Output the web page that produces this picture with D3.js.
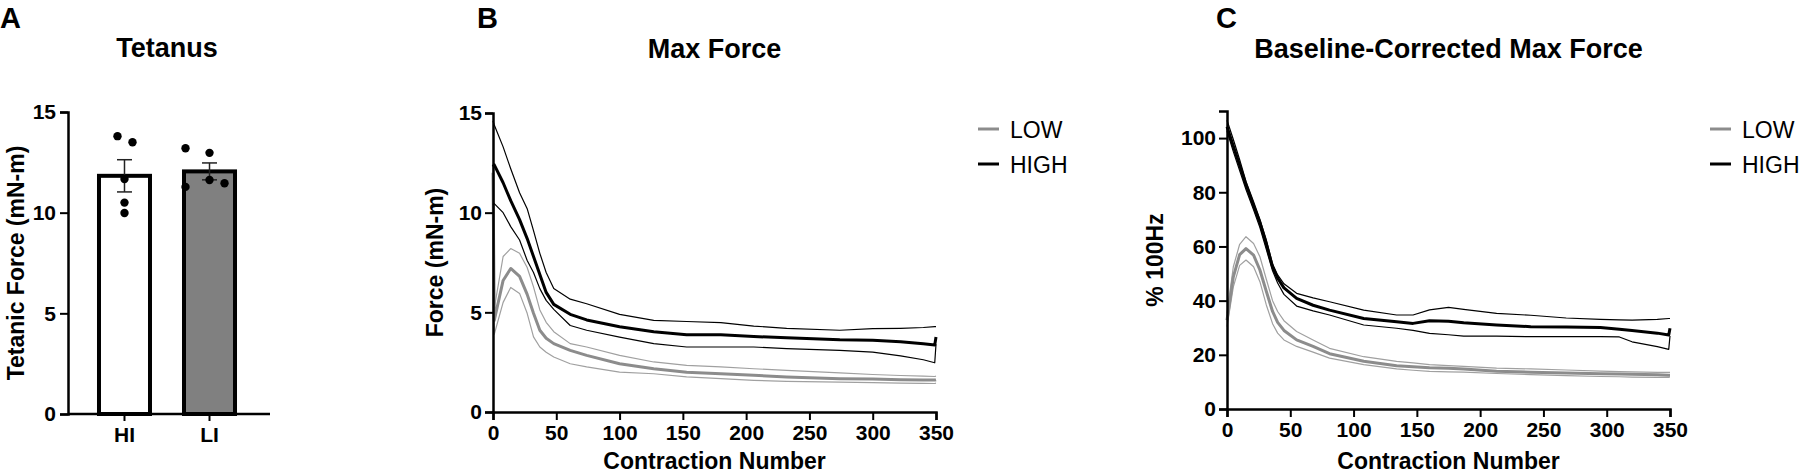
<!DOCTYPE html>
<html>
<head>
<meta charset="utf-8">
<script src="https://cdn.jsdelivr.net/npm/d3@7"></script>
<style>
	body { margin: 0; background: #fff; }
	svg text { font-family: "Liberation Sans", Arial, sans-serif; fill: #000; }
</style>
</head>
<body>
<div id="chart"></div>
<script>
// Panel A - tetanus bars
const groups = ["HI", "LI"]
const groupMeans = [11.83, 12.05]
const groupSem = [0.8, 0.42]
const groupFill = ["#ffffff", "#808080"]
const hiPoints = [13.8, 13.5, 11.67, 10.5, 9.98]
const liPoints = [13.2, 12.97, 11.28, 11.62, 11.46]
const hiJitter = [-7, 8, 0, 0, 0]
const liJitter = [-24, 0, -24, 0, 15]

// Panel B - max force (mN-m)
const cB = [0, 1, 8, 14, 21, 27, 32, 37, 42, 48, 61, 74, 100, 127, 153, 180, 206, 232, 274, 300, 322, 340, 349, 350]
const highMeanB = [12.3, 12.4, 11.5, 10.6, 9.65, 8.7, 7.8, 6.9, 6.0, 5.4, 4.9, 4.62, 4.28, 4.03, 3.87, 3.87, 3.79, 3.72, 3.62, 3.6, 3.53, 3.42, 3.36, 3.76]
const highUpB = [14.6, 14.4, 13.3, 12.2, 11.0, 10.2, 9.1, 7.96, 7.0, 6.2, 5.66, 5.43, 4.9, 4.6, 4.54, 4.48, 4.31, 4.2, 4.1, 4.18, 4.2, 4.24, 4.28, 4.28]
const highLoB = [10.4, 10.45, 10.0, 9.3, 8.63, 7.6, 7.0, 6.19, 5.6, 5.15, 4.34, 4.1, 3.76, 3.43, 3.26, 3.26, 3.26, 3.18, 3.09, 3.0, 2.82, 2.62, 2.47, 3.4]
const lowMeanB = [12.0, 4.6, 6.6, 7.2, 6.8, 5.9, 4.95, 4.1, 3.7, 3.43, 3.09, 2.84, 2.42, 2.17, 2.0, 1.92, 1.84, 1.76, 1.67, 1.65, 1.62, 1.6, 1.6, 1.62]
const lowUpB = [12.3, 5.2, 7.8, 8.2, 7.96, 7.25, 6.28, 5.12, 4.5, 4.03, 3.43, 3.26, 2.84, 2.51, 2.34, 2.26, 2.17, 2.09, 1.96, 1.88, 1.83, 1.8, 1.78, 1.8]
const lowLoB = [11.6, 3.9, 5.5, 6.25, 5.95, 4.95, 3.77, 3.26, 3.0, 2.76, 2.42, 2.26, 2.0, 1.92, 1.76, 1.67, 1.59, 1.54, 1.5, 1.47, 1.45, 1.44, 1.43, 1.45]

// Panel C - baseline-corrected (% 100Hz)
const cC = [0, 5, 10, 15, 21, 26, 31, 36, 40, 45, 55, 68, 81, 108, 134, 147, 160, 175, 187, 213, 240, 268, 295, 310, 320, 340, 349, 350]
const highMeanC = [104.2, 97, 90, 82.8, 75, 68.8, 61, 52.5, 48.3, 44.7, 40.8, 38.3, 36.5, 33.4, 32.2, 31.6, 32.6, 32.4, 31.8, 31.0, 30.4, 30.3, 30.1, 29.4, 29.0, 28.0, 27.3, 29.8]
const highUpC = [106.6, 99.5, 92, 84, 76.5, 70, 62.5, 53.5, 49.5, 46.2, 42.7, 41, 39.6, 36.5, 34.7, 34.7, 36.6, 37.5, 36.8, 35.3, 34.6, 33.6, 33.1, 32.9, 32.8, 33.1, 33.4, 33.4]
const highLoC = [102.6, 95, 88, 81, 73.5, 67, 59, 51, 46.5, 42.3, 38.0, 36.2, 34.7, 31.0, 29.8, 29.0, 27.9, 27.4, 26.9, 26.9, 26.7, 26.7, 26.7, 26.6, 24.8, 23.0, 22.0, 27.0]
const lowMeanC = [32.8, 48.8, 57, 59.2, 56.8, 51.3, 43.5, 36, 32, 29.0, 25.5, 23.1, 20.4, 17.6, 16.0, 15.6, 15.2, 15.0, 14.8, 13.9, 13.6, 13.3, 13.0, 12.9, 12.8, 12.6, 12.5, 12.5]
const lowUpC = [35.3, 52.5, 60.8, 63.6, 61.1, 56.2, 48, 40, 36, 32.6, 28.6, 25.5, 22.4, 19.3, 17.6, 17.0, 16.4, 16.0, 15.7, 15.1, 14.8, 14.4, 14.0, 13.8, 13.7, 13.5, 13.5, 13.5]
const lowLoC = [30.4, 45.1, 53, 55, 52.5, 47, 38.5, 31.5, 28, 25.5, 23.1, 21, 18.8, 16.4, 14.8, 14.3, 13.9, 13.7, 13.6, 13.1, 12.7, 12.3, 12.0, 11.9, 11.8, 11.7, 11.7, 11.8]

const xTicks = [0, 50, 100, 150, 200, 250, 300, 350]
const legendNames = ["LOW", "HIGH"]
const legendColors = ["#8c8c8c", "#000000"]

const svg = d3.select("#chart").append("svg").attr("width", 1800).attr("height", 476)

const styleAxis = g => {
	g.selectAll(".domain").attr("stroke", "#000").attr("stroke-width", 2.5)
	g.selectAll(".tick line").attr("stroke", "#000").attr("stroke-width", 2)
	g.selectAll(".tick text").style("font-size", "21px").style("font-weight", "bold")
}

// ---------- Panel A ----------
const panelA = () => {
	const xs = d3.scaleBand().domain(groups).range([68, 266]).paddingInner(0.353).paddingOuter(0.341)
	const ys = d3.scaleLinear().domain([0, 15]).range([414, 112])

	// bars
	svg.append("g").selectAll("rect").data(groups).join("rect")
		.attr("x", d => xs(d) + 2)
		.attr("y", (d, i) => ys(groupMeans[i]))
		.attr("width", xs.bandwidth() - 4)
		.attr("height", (d, i) => ys(0) - ys(groupMeans[i]))
		.attr("fill", (d, i) => groupFill[i])
		.attr("stroke", "#000").attr("stroke-width", 4)

	// error bars
	const eb = svg.append("g").attr("stroke", "#222").attr("stroke-width", 1.5)
	groups.forEach((g, i) => {
		const cx = xs(g) + xs.bandwidth() / 2
		eb.append("line").attr("x1", cx).attr("x2", cx).attr("y1", ys(groupMeans[i] - groupSem[i])).attr("y2", ys(groupMeans[i] + groupSem[i]))
		;[-1, 1].forEach(s => {
			eb.append("line").attr("x1", cx - 7.5).attr("x2", cx + 7.5)
				.attr("y1", ys(groupMeans[i] + s * groupSem[i])).attr("y2", ys(groupMeans[i] + s * groupSem[i]))
		})
	})

	// individual points
	const pts = svg.append("g")
	;[[hiPoints, hiJitter, "HI"], [liPoints, liJitter, "LI"]].forEach(([vals, jit, g]) => {
		const cx = xs(g) + xs.bandwidth() / 2
		pts.selectAll(null).data(vals).join("circle")
			.attr("cx", (d, i) => cx + jit[i])
			.attr("cy", d => ys(d))
			.attr("r", 4.2)
			.attr("fill", "#000")
	})

	const ya = svg.append("g").attr("transform", "translate(68,0)")
		.call(d3.axisLeft(ys).tickValues([0, 5, 10, 15]).tickSizeOuter(0).tickSize(8).tickPadding(4))
	styleAxis(ya)
	const xa = svg.append("g").attr("transform", "translate(0,414)")
		.call(d3.axisBottom(xs).tickSizeOuter(0).tickSize(7).tickPadding(6))
	styleAxis(xa)
	xa.select(".domain").attr("d", "M68,0H270")

	svg.append("text").attr("x", 167).attr("y", 57).attr("text-anchor", "middle")
		.style("font-size", "27px").style("font-weight", "bold").text("Tetanus")
	svg.append("text").attr("transform", "translate(24,263) rotate(-90)").attr("text-anchor", "middle")
		.style("font-size", "23px").style("font-weight", "bold").text("Tetanic Force (mN-m)")
	svg.append("text").attr("x", 0).attr("y", 28)
		.style("font-size", "29px").style("font-weight", "bold").text("A")
}

// ---------- Line panels ----------
const linePanel = (opt) => {
	const xs = d3.scaleLinear().domain([0, 350]).range([opt.x0, opt.x0 + 443])
	const ys = d3.scaleLinear().domain(opt.yDomain).range([opt.yBottom, opt.yTop])
	const line = vals => d3.line().x((d, i) => xs(opt.c[i])).y(d => ys(d))(vals)

	const series = [
		[opt.lowUp, "#a0a0a0", 1.2], [opt.lowLo, "#a0a0a0", 1.2], [opt.lowMean, "#8c8c8c", 3],
		[opt.highUp, "#000", 1.2], [opt.highLo, "#000", 1.2], [opt.highMean, "#000", 3]
	]
	svg.append("g").selectAll("path").data(series).join("path")
		.attr("d", d => line(d[0]))
		.attr("fill", "none")
		.attr("stroke", d => d[1])
		.attr("stroke-width", d => d[2])
		.attr("stroke-linejoin", "round")

	const ya = svg.append("g").attr("transform", `translate(${opt.x0},0)`)
		.call(d3.axisLeft(ys).tickValues(opt.yTicks).tickSizeOuter(0).tickSize(8).tickPadding(3))
	styleAxis(ya)
	const xa = svg.append("g").attr("transform", `translate(0,${opt.yBottom})`)
		.call(d3.axisBottom(xs).tickValues(xTicks).tickSizeOuter(0).tickSize(8).tickPadding(5))
	styleAxis(xa)

	const cx = opt.x0 + 221.5
	svg.append("text").attr("x", cx).attr("y", 58).attr("text-anchor", "middle")
		.style("font-size", "27px").style("font-weight", "bold").text(opt.title)
	svg.append("text").attr("x", cx).attr("y", 469).attr("text-anchor", "middle")
		.style("font-size", "23px").style("font-weight", "bold").text("Contraction Number")
	svg.append("text").attr("transform", `translate(${opt.yLabelX},${(opt.yTop + opt.yBottom) / 2}) rotate(-90)`)
		.attr("text-anchor", "middle")
		.style("font-size", "23px").style("font-weight", "bold").text(opt.yLabel)
	svg.append("text").attr("x", opt.letterX).attr("y", 28)
		.style("font-size", "29px").style("font-weight", "bold").text(opt.letter)

	// legend
	const lg = svg.append("g").attr("transform", `translate(${opt.legendX},129)`)
	legendNames.forEach((name, i) => {
		lg.append("line").attr("x1", 0).attr("x2", 21).attr("y1", i * 35).attr("y2", i * 35)
			.attr("stroke", legendColors[i]).attr("stroke-width", 3)
		lg.append("text").attr("x", 32).attr("y", i * 35 + 8.5)
			.style("font-size", "23px").text(name)
	})
}

panelA()

linePanel({
	x0: 493, yTop: 113, yBottom: 412, yDomain: [0, 15], yTicks: [0, 5, 10, 15],
	c: cB, highMean: highMeanB, highUp: highUpB, highLo: highLoB,
	lowMean: lowMeanB, lowUp: lowUpB, lowLo: lowLoB,
	title: "Max Force", yLabel: "Force (mN-m)", yLabelX: 443, letter: "B", letterX: 477, legendX: 978
})

linePanel({
	x0: 1227, yTop: 111, yBottom: 409, yDomain: [0, 110], yTicks: [0, 20, 40, 60, 80, 100],
	c: cC, highMean: highMeanC, highUp: highUpC, highLo: highLoC,
	lowMean: lowMeanC, lowUp: lowUpC, lowLo: lowLoC,
	title: "Baseline-Corrected Max Force", yLabel: "% 100Hz", yLabelX: 1163, letter: "C", letterX: 1216, legendX: 1710
})
</script>
</body>
</html>
